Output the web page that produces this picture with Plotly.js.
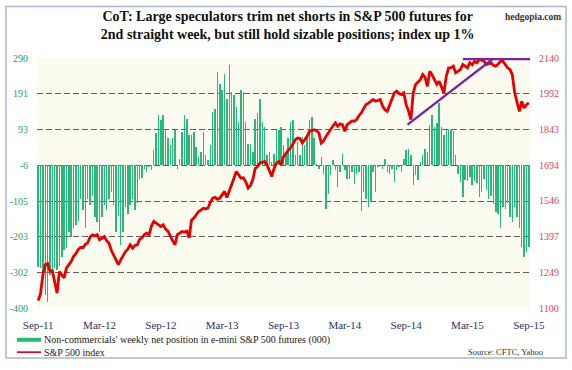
<!DOCTYPE html>
<html>
<head>
<meta charset="utf-8">
<script src="https://cdn.plot.ly/plotly-3.0.1.min.js"></script>
<style>html,body{margin:0;padding:0;background:#fff}#chart{width:572px;height:370px}</style>
</head>
<body>
<div id="chart"></div>
<script>
// Weekly net position of non-commercials in e-mini S&P 500 futures (000), Sep-2011 .. Sep-2015
const netPosition = [
-287,-290,-300,-365,-384,-310,-300,-290,-295,-285,
-260,-241,-235,-190,-205,-180,-170,-160,-100,-130,
-180,-100,-115,-90,-150,-163,-190,-150,-115,-130,
-100,-80,-115,-190,-145,-225,-190,-120,-140,-115,
-100,-130,-110,-45,-40,-15,-25,-10,-20,35,
82,132,118,132,91,68,50,68,91,-16,
12,85,132,123,77,77,85,45,18,31,
85,22,8,49,141,150,252,219,201,247,
178,270,196,187,155,114,201,196,114,54,
54,31,123,137,178,114,100,22,31,3,
26,91,91,100,49,31,68,114,118,22,
59,22,72,49,77,118,128,68,-2,-16,
17,-29,-126,-85,-34,8,-20,-66,-24,26,
-20,-43,-43,-24,-57,-30,-24,-131,-80,-98,
-121,-107,-24,-80,-10,-6,-15,12,-24,-29,
-16,-52,-20,-10,-24,12,35,40,22,-61,
-34,-47,3,22,40,30,105,132,100,110,
165,100,77,90,95,90,88,22,-30,-52,
-94,-47,-50,-38,-61,-50,-55,-94,-80,-45,
-75,-99,-90,-113,-136,-140,-180,-120,-126,-110,
-150,-164,-120,-150,-180,-231,-258,-245,-231
];
// S&P 500 index, same weeks
const spIndex = [
1131,1160,1238,1280,1285,1253,1255,1200,1162,1251,
1236,1225,1267,1280,1293,1315,1326,1344,1352,1351,
1365,1371,1395,1404,1400,1405,1384,1390,1397,1380,
1370,1340,1320,1293,1280,1300,1321,1335,1345,1363,
1349,1360,1363,1385,1392,1405,1411,1404,1440,1460,
1453,1445,1439,1446,1428,1420,1397,1380,1363,1405,
1411,1418,1416,1420,1392,1465,1474,1490,1501,1507,
1515,1512,1516,1540,1557,1560,1552,1557,1570,1585,
1560,1590,1620,1640,1668,1655,1640,1642,1625,1599,
1610,1634,1680,1689,1703,1706,1710,1696,1670,1647,
1680,1703,1710,1696,1730,1745,1756,1766,1785,1800,
1807,1805,1786,1800,1814,1835,1840,1842,1838,1828,
1786,1795,1814,1830,1842,1858,1870,1856,1866,1863,
1835,1863,1870,1878,1877,1884,1900,1912,1930,1946,
1952,1960,1967,1960,1965,1967,1940,1925,1918,1946,
1975,1995,2002,1992,1988,1995,1946,1920,1884,1995,
2030,2040,2050,2071,2060,2022,2085,2070,2050,2030,
2043,2020,1995,2064,2099,2100,2106,2078,2085,2092,
2113,2105,2099,2120,2112,2127,2120,2134,2130,2127,
2113,2118,2120,2110,2106,2115,2127,2127,2110,2099,
2092,2071,1995,1960,1918,1960,1932,1946,1953
];
// Trend lines drawn on the chart (week index, index level)
const trendUpWeeks = [156.6, 192.8];
const trendUpLevels = [1863, 2137];
const topLineWeeks = [180, 208.5];
const topLineLevels = [2135, 2135];

const xTickWeeks = [0, 26, 52, 78, 104, 130, 156, 182, 208];
const xTickText = ['Sep-11','Mar-12','Sep-12','Mar-13','Sep-13','Mar-14','Sep-14','Mar-15','Sep-15'];
const leftTicks = [-400, -302, -203, -105, -6, 93, 191, 290];
const rightTicks = [1100, 1249, 1397, 1546, 1694, 1843, 1992, 2140];
const barBase = -6;

const serif = 'Liberation Serif, Times New Roman, serif';
const L = 37, R = 530, T = 58, B = 308;
const px = x => (x - L) / (R - L);
const py = y => (B - y) / (B - T);

const traces = [
  {
    type: 'bar', x0: 0, dx: 1,
    y: netPosition.map(v => v - barBase), base: barBase,
    width: 0.62,
    marker: {color: '#27b97a', line: {width: 0}},
    showlegend: false, hoverinfo: 'skip'
  },
  {
    type: 'scatter', mode: 'lines', x0: 0, dx: 1, y: spIndex, yaxis: 'y2',
    line: {color: '#e60000', width: 2.8},
    showlegend: false, hoverinfo: 'skip'
  },
  {
    type: 'scatter', mode: 'lines', x: trendUpWeeks, y: trendUpLevels, yaxis: 'y2',
    line: {color: '#7b22a0', width: 2.3}, showlegend: false, hoverinfo: 'skip'
  },
  {
    type: 'scatter', mode: 'lines', x: topLineWeeks, y: topLineLevels, yaxis: 'y2',
    line: {color: '#7b22a0', width: 2.3}, showlegend: false, hoverinfo: 'skip'
  }
];

const layout = {
  width: 572, height: 370,
  margin: {l: L, r: 572 - R, t: T, b: 370 - B},
  paper_bgcolor: '#ffffff',
  plot_bgcolor: '#fbfbef',
  showlegend: false,
  bargap: 0,
  title: {
    text: 'CoT: Large speculators trim net shorts in S&P 500 futures for<br>2nd straight week, but still hold sizable positions; index up 1%',
    font: {family: serif, size: 14, color: '#111', weight: 'bold'},
    x: 0.503, xref: 'container', xanchor: 'center',
    y: 1 - 21 / 370, yref: 'container', yanchor: 'top'
  },
  xaxis: {
    range: [-0.5, 208.5], tickmode: 'array', tickvals: xTickWeeks, ticktext: xTickText,
    showgrid: false, zeroline: false, showline: false, ticks: '',
    tickfont: {family: serif, size: 11, color: '#27335f'},
    ticklabelstandoff: 9
  },
  yaxis: {
    range: [-400, 290], tickmode: 'array', tickvals: leftTicks, ticktext: leftTicks.map(String),
    showgrid: true, gridcolor: '#5e5e5e', gridwidth: 1.1, griddash: '6px,3px',
    zeroline: false, showline: false, ticks: '',
    tickfont: {family: serif, size: 10, color: '#2a9d6c'},
    ticklabelstandoff: 8
  },
  yaxis2: {
    range: [1100, 2140], overlaying: 'y', side: 'right', tickmode: 'array',
    tickvals: rightTicks, ticktext: rightTicks.map(String),
    showgrid: false, zeroline: false, showline: false, ticks: '',
    tickfont: {family: serif, size: 10, color: '#e6414f'},
    ticklabelstandoff: 8
  },
  shapes: [
    {type: 'rect', xref: 'paper', yref: 'paper', x0: px(6), x1: px(566), y0: py(358), y1: py(6.5),
     line: {color: '#a9b6ce', width: 1.5}, fillcolor: 'rgba(0,0,0,0)', layer: 'above'},
    {type: 'rect', xref: 'paper', yref: 'paper', x0: px(17), x1: px(41), y0: py(341.8), y1: py(337.8),
     line: {width: 0}, fillcolor: '#27b97a', layer: 'above'},
    {type: 'line', xref: 'paper', yref: 'paper', x0: px(17), x1: px(41), y0: py(352.2), y1: py(352.2),
     line: {color: '#c8102e', width: 1.8}, layer: 'above'}
  ],
  annotations: [
    {text: 'hedgopia.com', xref: 'paper', yref: 'paper', x: px(563), y: py(16.5),
     xanchor: 'right', yanchor: 'middle', showarrow: false,
     font: {family: serif, size: 9.5, color: '#333', weight: 'bold'}},
    {text: "Non-commercials' weekly net position in e-mini S&P 500 futures (000)", xref: 'paper', yref: 'paper',
     x: px(42), y: py(340), xanchor: 'left', yanchor: 'middle', showarrow: false,
     font: {family: serif, size: 10, color: '#1a1a1a'}},
    {text: 'S&P 500 index', xref: 'paper', yref: 'paper',
     x: px(42), y: py(352), xanchor: 'left', yanchor: 'middle', showarrow: false,
     font: {family: serif, size: 10, color: '#1a1a1a'}},
    {text: 'Source: CFTC, Yahoo', xref: 'paper', yref: 'paper',
     x: px(545), y: py(351.5), xanchor: 'right', yanchor: 'middle', showarrow: false,
     font: {family: serif, size: 8.5, color: '#333'}}
  ]
};

Plotly.newPlot('chart', traces, layout, {staticPlot: true, displayModeBar: false});
</script>
</body>
</html>
